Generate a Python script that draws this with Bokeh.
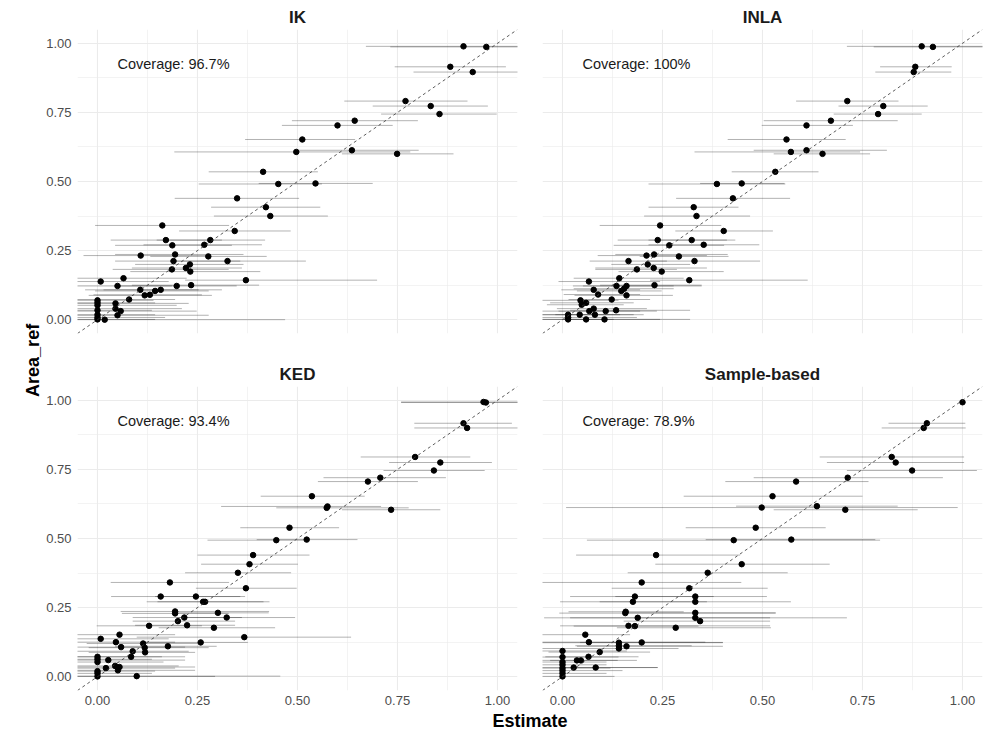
from math import pi
from bokeh.plotting import figure
from bokeh.layouts import row, column, Spacer
from bokeh.models import Range1d, FixedTicker, Slope, ColumnDataSource, NumeralTickFormatter
from bokeh.core.properties import value
from bokeh.embed import file_html
from bokeh.resources import INLINE

FONT = "Liberation Sans"

panel_titles = ["IK", "INLA", "KED", "Sample-based"]
coverage_labels = ["Coverage: 96.7%", "Coverage: 100%", "Coverage: 93.4%", "Coverage: 78.9%"]
tick_values = [0.0, 0.25, 0.5, 0.75, 1.0]
minor_values = [0.125, 0.375, 0.625, 0.875]

# ---------------- IK ----------------
ik_est = [0.915, 0.972, 0.882, 0.938, 0.770, 0.833, 0.855, 0.643, 0.600, 0.512,
          0.497, 0.636, 0.749, 0.414, 0.452, 0.545, 0.349, 0.421, 0.432, 0.162,
          0.343, 0.171, 0.282, 0.187, 0.267, 0.108, 0.194, 0.277, 0.190, 0.325,
          0.231, 0.221, 0.186, 0.232, 0.371, 0.065, 0.008, 0.050, 0.198, 0.234,
          0.107, 0.144, 0.158, 0.118, 0.131, 0.079, 0.000, 0.000, 0.000, 0.045,
          0.045, 0.058, 0.000, 0.000, 0.050, 0.000, 0.000, 0.018]
ik_ref = [0.989, 0.987, 0.915, 0.896, 0.791, 0.773, 0.744, 0.720, 0.703, 0.652,
          0.607, 0.613, 0.600, 0.535, 0.491, 0.493, 0.439, 0.407, 0.375, 0.341,
          0.321, 0.288, 0.288, 0.269, 0.271, 0.232, 0.236, 0.229, 0.212, 0.212,
          0.200, 0.187, 0.182, 0.174, 0.143, 0.150, 0.138, 0.122, 0.122, 0.125,
          0.108, 0.104, 0.108, 0.088, 0.090, 0.073, 0.070, 0.061, 0.052, 0.059,
          0.040, 0.031, 0.034, 0.018, 0.016, 0.008, 0.001, 0.000]
ik_lo = [0.671, 0.732, 0.743, 0.790, 0.617, 0.688, 0.709, 0.486, 0.461, 0.369,
         0.192, 0.494, 0.611, 0.278, 0.253, 0.403, 0.193, 0.284, 0.291, -0.006,
         0.204, 0.033, 0.148, 0.044, 0.115, -0.035, 0.044, 0.132, 0.044, 0.182,
         0.094, 0.086, 0.038, 0.082, 0.219, -0.08, -0.08, -0.08, 0.044, 0.086,
         -0.031, -0.006, 0.015, -0.022, -0.010, -0.08, -0.08, -0.08, -0.08, -0.08,
         -0.08, -0.08, -0.08, -0.08, -0.08, -0.08, -0.08, -0.08]
ik_hi = [1.10, 1.10, 1.021, 1.10, 0.925, 0.976, 0.998, 0.801, 0.738, 0.644,
         0.782, 0.803, 0.890, 0.551, 0.561, 0.688, 0.504, 0.557, 0.576, 0.329,
         0.483, 0.311, 0.419, 0.336, 0.411, 0.278, 0.365, 0.423, 0.357, 0.521,
         0.365, 0.361, 0.328, 0.407, 0.699, 0.223, 0.178, 0.186, 0.348, 0.404,
         0.253, 0.278, 0.311, 0.286, 0.261, 0.194, 0.140, 0.144, 0.198, 0.228,
         0.211, 0.248, 0.136, 0.144, 0.278, 0.169, 0.144, 0.469]

# ---------------- INLA ----------------
inla_est = [0.898, 0.926, 0.882, 0.878, 0.712, 0.802, 0.789, 0.671, 0.610, 0.560,
            0.571, 0.610, 0.650, 0.532, 0.386, 0.448, 0.426, 0.328, 0.335, 0.244,
            0.403, 0.238, 0.323, 0.267, 0.353, 0.210, 0.229, 0.291, 0.165, 0.330,
            0.213, 0.228, 0.186, 0.248, 0.317, 0.142, 0.066, 0.135, 0.160, 0.230,
            0.078, 0.147, 0.154, 0.089, 0.160, 0.123, 0.045, 0.059, 0.048, 0.078,
            0.067, 0.134, 0.108, 0.081, 0.043, 0.014, 0.014, 0.059, 0.105, 0.014]
inla_ref = [0.989, 0.987, 0.915, 0.896, 0.791, 0.773, 0.744, 0.720, 0.703, 0.652,
            0.607, 0.613, 0.600, 0.535, 0.491, 0.493, 0.439, 0.407, 0.375, 0.341,
            0.321, 0.288, 0.288, 0.269, 0.271, 0.232, 0.236, 0.229, 0.212, 0.212,
            0.200, 0.187, 0.182, 0.174, 0.143, 0.150, 0.138, 0.122, 0.122, 0.125,
            0.108, 0.104, 0.112, 0.091, 0.088, 0.073, 0.070, 0.061, 0.054, 0.040,
            0.031, 0.034, 0.031, 0.018, 0.018, 0.018, 0.008, 0.001, 0.001, 0.001]
inla_lo = [0.711, 0.778, 0.794, 0.782, 0.584, 0.690, 0.678, 0.503, 0.498, 0.413,
           0.330, 0.478, 0.528, 0.423, 0.215, 0.344, 0.284, 0.215, 0.204, 0.093,
           0.282, 0.138, 0.215, 0.128, 0.215, 0.088, 0.132, 0.193, 0.068, 0.215,
           0.122, 0.082, 0.082, 0.140, 0.219, 0.028, -0.010, 0.026, 0.051, 0.094,
           -0.003, 0.036, 0.028, 0.003, 0.030, 0.015, -0.08, -0.031, -0.039, -0.014,
           -0.08, 0.019, -0.010, -0.018, -0.08, -0.08, -0.08, -0.08, 0.003, -0.08]
inla_hi = [1.10, 1.10, 0.973, 0.972, 0.840, 0.913, 0.898, 0.838, 0.726, 0.708,
           0.744, 0.811, 0.769, 0.640, 0.557, 0.555, 0.569, 0.440, 0.469, 0.397,
           0.526, 0.432, 0.411, 0.404, 0.492, 0.361, 0.413, 0.415, 0.261, 0.494,
           0.319, 0.361, 0.286, 0.403, 0.613, 0.303, 0.244, 0.348, 0.278, 0.348,
           0.194, 0.248, 0.278, 0.194, 0.276, 0.219, 0.140, 0.178, 0.153, 0.211,
           0.194, 0.319, 0.236, 0.203, 0.178, 0.144, 0.186, 0.244, 0.319, 0.128]

# ---------------- KED ----------------
ked_est = [0.965, 0.971, 0.915, 0.924, 0.794, 0.857, 0.841, 0.707, 0.676, 0.536,
           0.575, 0.573, 0.734, 0.480, 0.447, 0.523, 0.389, 0.380, 0.351, 0.181,
           0.371, 0.158, 0.246, 0.264, 0.269, 0.194, 0.194, 0.301, 0.217, 0.323,
           0.201, 0.224, 0.129, 0.291, 0.367, 0.055, 0.008, 0.046, 0.114, 0.258,
           0.176, 0.059, 0.118, 0.119, 0.088, 0.084, 0.000, 0.000, 0.027, 0.000,
           0.044, 0.055, 0.021, 0.051, 0.000, 0.000, 0.000, 0.098]
ked_ref = [0.994, 0.992, 0.917, 0.900, 0.795, 0.775, 0.746, 0.720, 0.706, 0.653,
           0.616, 0.611, 0.604, 0.539, 0.494, 0.496, 0.440, 0.407, 0.376, 0.341,
           0.320, 0.290, 0.290, 0.271, 0.271, 0.236, 0.229, 0.231, 0.214, 0.214,
           0.201, 0.186, 0.184, 0.177, 0.143, 0.152, 0.137, 0.125, 0.120, 0.124,
           0.110, 0.107, 0.105, 0.088, 0.092, 0.072, 0.072, 0.063, 0.060, 0.053,
           0.039, 0.035, 0.031, 0.023, 0.020, 0.012, 0.001, 0.002]
ked_lo = [0.759, 0.759, 0.792, 0.792, 0.658, 0.729, 0.715, 0.565, 0.551, 0.408,
          0.309, 0.447, 0.611, 0.357, 0.275, 0.398, 0.250, 0.259, 0.219, 0.033,
          0.246, 0.034, 0.144, 0.123, 0.150, 0.058, 0.061, 0.186, 0.088, 0.198,
          0.088, 0.094, -0.002, 0.153, 0.098, -0.08, -0.08, -0.08, -0.027, 0.111,
          0.044, -0.08, -0.022, -0.022, -0.08, -0.08, -0.08, -0.08, -0.08, -0.08,
          -0.08, -0.08, -0.08, -0.08, -0.08, -0.08, -0.08, -0.08]
ked_hi = [1.10, 1.10, 1.036, 1.10, 0.932, 0.986, 0.968, 0.871, 0.801, 0.668,
          0.709, 0.778, 0.857, 0.604, 0.528, 0.650, 0.530, 0.501, 0.484, 0.329,
          0.498, 0.369, 0.357, 0.415, 0.430, 0.429, 0.328, 0.428, 0.361, 0.494,
          0.344, 0.344, 0.261, 0.444, 0.634, 0.194, 0.178, 0.194, 0.253, 0.376,
          0.298, 0.219, 0.278, 0.244, 0.228, 0.219, 0.161, 0.136, 0.219, 0.165,
          0.203, 0.244, 0.194, 0.244, 0.144, 0.136, 0.294, 0.457]

# ---------------- Sample-based ----------------
sb_est = [1.000, 0.911, 0.903, 0.823, 0.833, 0.874, 0.713, 0.584, 0.525, 0.498,
          0.636, 0.707, 0.483, 0.428, 0.572, 0.234, 0.448, 0.363, 0.198, 0.317,
          0.181, 0.332, 0.176, 0.332, 0.158, 0.157, 0.332, 0.188, 0.332, 0.344,
          0.165, 0.181, 0.283, 0.057, 0.066, 0.141, 0.141, 0.160, 0.198, 0.141,
          0.093, 0.000, 0.065, 0.000, 0.036, 0.046, 0.000, 0.000, 0.028, 0.083,
          0.000, 0.000, 0.000, 0.000]
sb_ref = [0.993, 0.917, 0.900, 0.795, 0.775, 0.746, 0.720, 0.706, 0.653, 0.612,
          0.617, 0.604, 0.539, 0.494, 0.496, 0.440, 0.407, 0.376, 0.341, 0.320,
          0.290, 0.290, 0.271, 0.271, 0.235, 0.230, 0.231, 0.213, 0.213, 0.201,
          0.184, 0.183, 0.177, 0.152, 0.125, 0.123, 0.112, 0.110, 0.124, 0.102,
          0.089, 0.093, 0.072, 0.071, 0.059, 0.059, 0.053, 0.043, 0.033, 0.033,
          0.031, 0.022, 0.012, 0.001]
sb_lo = [1.000, 0.815, 0.798, 0.643, 0.661, 0.711, 0.478, 0.407, 0.303, 0.009,
         0.434, 0.528, 0.308, 0.061, 0.358, 0.034, 0.232, 0.163, -0.08, 0.123,
         0.019, 0.132, -0.006, 0.093, 0.015, -0.008, 0.153, -0.046, 0.019, 0.153,
         -0.006, 0.028, 0.136, -0.08, -0.08, -0.08, 0.032, 0.036, 0.044, -0.08,
         -0.035, -0.08, -0.043, -0.08, -0.08, -0.031, -0.08, -0.08, -0.08, 0.000,
         -0.08, -0.08, -0.08, -0.08]
sb_hi = [1.000, 1.007, 1.008, 1.004, 1.004, 1.036, 0.951, 0.765, 0.750, 0.988,
         0.838, 0.888, 0.658, 0.794, 0.782, 0.444, 0.668, 0.563, 0.447, 0.513,
         0.378, 0.511, 0.361, 0.571, 0.303, 0.533, 0.533, 0.711, 0.519, 0.519,
         0.519, 0.340, 0.521, 0.169, 0.357, 0.401, 0.323, 0.401, 0.401, 0.290,
         0.219, 0.161, 0.190, 0.140, 0.138, 0.186, 0.110, 0.110, 0.238, 0.238,
         0.120, 0.150, 0.110, 0.130]

series = [
    (ik_est, ik_ref, ik_lo, ik_hi),
    (inla_est, inla_ref, inla_lo, inla_hi),
    (ked_est, ked_ref, ked_lo, ked_hi),
    (sb_est, sb_ref, sb_lo, sb_hi),
]

GRID = "#EBEBEB"


def make_panel(idx, width, height, bl, br, bt, bb, show_x, show_y, standoff):
    est, ref, lo, hi = series[idx]
    p = figure(width=width, height=height,
               x_range=Range1d(-0.05, 1.05), y_range=Range1d(-0.05, 1.05),
               output_backend="svg", toolbar_location=None, min_border=0)
    p.min_border_left = bl
    p.min_border_right = br
    p.min_border_top = bt
    p.min_border_bottom = bb
    p.outline_line_color = None
    p.background_fill_color = "white"
    p.border_fill_color = "white"

    p.title.text = panel_titles[idx]
    p.title.align = "center"
    p.title.text_font = FONT
    p.title.text_font_size = "17px"
    p.title.text_font_style = "bold"
    p.title.text_color = "#1A1A1A"
    p.title.standoff = standoff

    for ax in (p.xaxis[0], p.yaxis[0]):
        ax.ticker = FixedTicker(ticks=tick_values, minor_ticks=minor_values)
        ax.formatter = NumeralTickFormatter(format="0.00")
        ax.axis_line_color = None
        ax.major_tick_line_color = None
        ax.minor_tick_line_color = None
        ax.major_tick_out = 0
        ax.major_tick_in = 0
        ax.minor_tick_out = 0
        ax.minor_tick_in = 0
        ax.major_label_text_font = FONT
        ax.major_label_text_font_size = "13px"
        ax.major_label_text_color = "#4D4D4D"
    p.xaxis[0].major_label_standoff = 5
    p.yaxis[0].major_label_standoff = 6
    p.xaxis[0].visible = show_x
    p.yaxis[0].visible = show_y

    for g in (p.xgrid[0], p.ygrid[0]):
        g.grid_line_color = GRID
        g.grid_line_width = 1.1
        g.minor_grid_line_color = GRID
        g.minor_grid_line_width = 0.6

    src = ColumnDataSource(data=dict(est=est, ref=ref, lo=lo, hi=hi))
    p.segment(x0="lo", y0="ref", x1="hi", y1="ref", source=src,
              line_color="black", line_alpha=0.3, line_width=1)
    p.add_layout(Slope(gradient=1, y_intercept=0, line_color="#333333",
                       line_dash="3 3", line_width=0.8))
    p.scatter("est", "ref", source=src, size=5.5, color="black")
    p.text(x=[0.05], y=[0.925], text=[coverage_labels[idx]],
           text_font=value(FONT), text_font_size="14.5px",
           text_align="left", text_baseline="middle", text_color="#1A1A1A")
    return p


# top row frames y 29..333 ; bottom row frames y 386..690 ; frames x 77..517 and 542..982
tl = make_panel(0, 487, 359, 35, 12, 29, 26, False, True, 6)
tr = make_panel(1, 461, 359, 13, 8, 29, 26, False, False, 6)
bl = make_panel(2, 487, 349, 35, 12, 27, 18, True, True, 6)
br = make_panel(3, 461, 349, 13, 8, 27, 18, True, False, 6)
# note: bottom border 18 is enlarged automatically to fit the tick labels if needed


def blank(width, height):
    p = figure(width=width, height=height, x_range=Range1d(0, 1), y_range=Range1d(0, 1),
               output_backend="svg", toolbar_location=None, min_border=0, title=None)
    p.axis.visible = False
    p.grid.visible = False
    p.outline_line_color = None
    return p


ylab = blank(42, 730)
ylab.text(x=[0.762], y=[0.507], text=["Area_ref"], angle=pi / 2,
          text_font=value(FONT), text_font_size="18px", text_font_style="bold",
          text_align="center", text_baseline="middle", text_color="black")

xlab = blank(905, 22)
xlab.text(x=[0.5], y=[0.45], text=["Estimate"],
          text_font=value(FONT), text_font_size="18px", text_font_style="bold",
          text_align="center", text_baseline="middle", text_color="black")

layout = row(ylab, column(row(tl, tr), row(bl, br), row(Spacer(width=35, height=22), xlab)))

open("out.html", "w").write(file_html(layout, INLINE))
